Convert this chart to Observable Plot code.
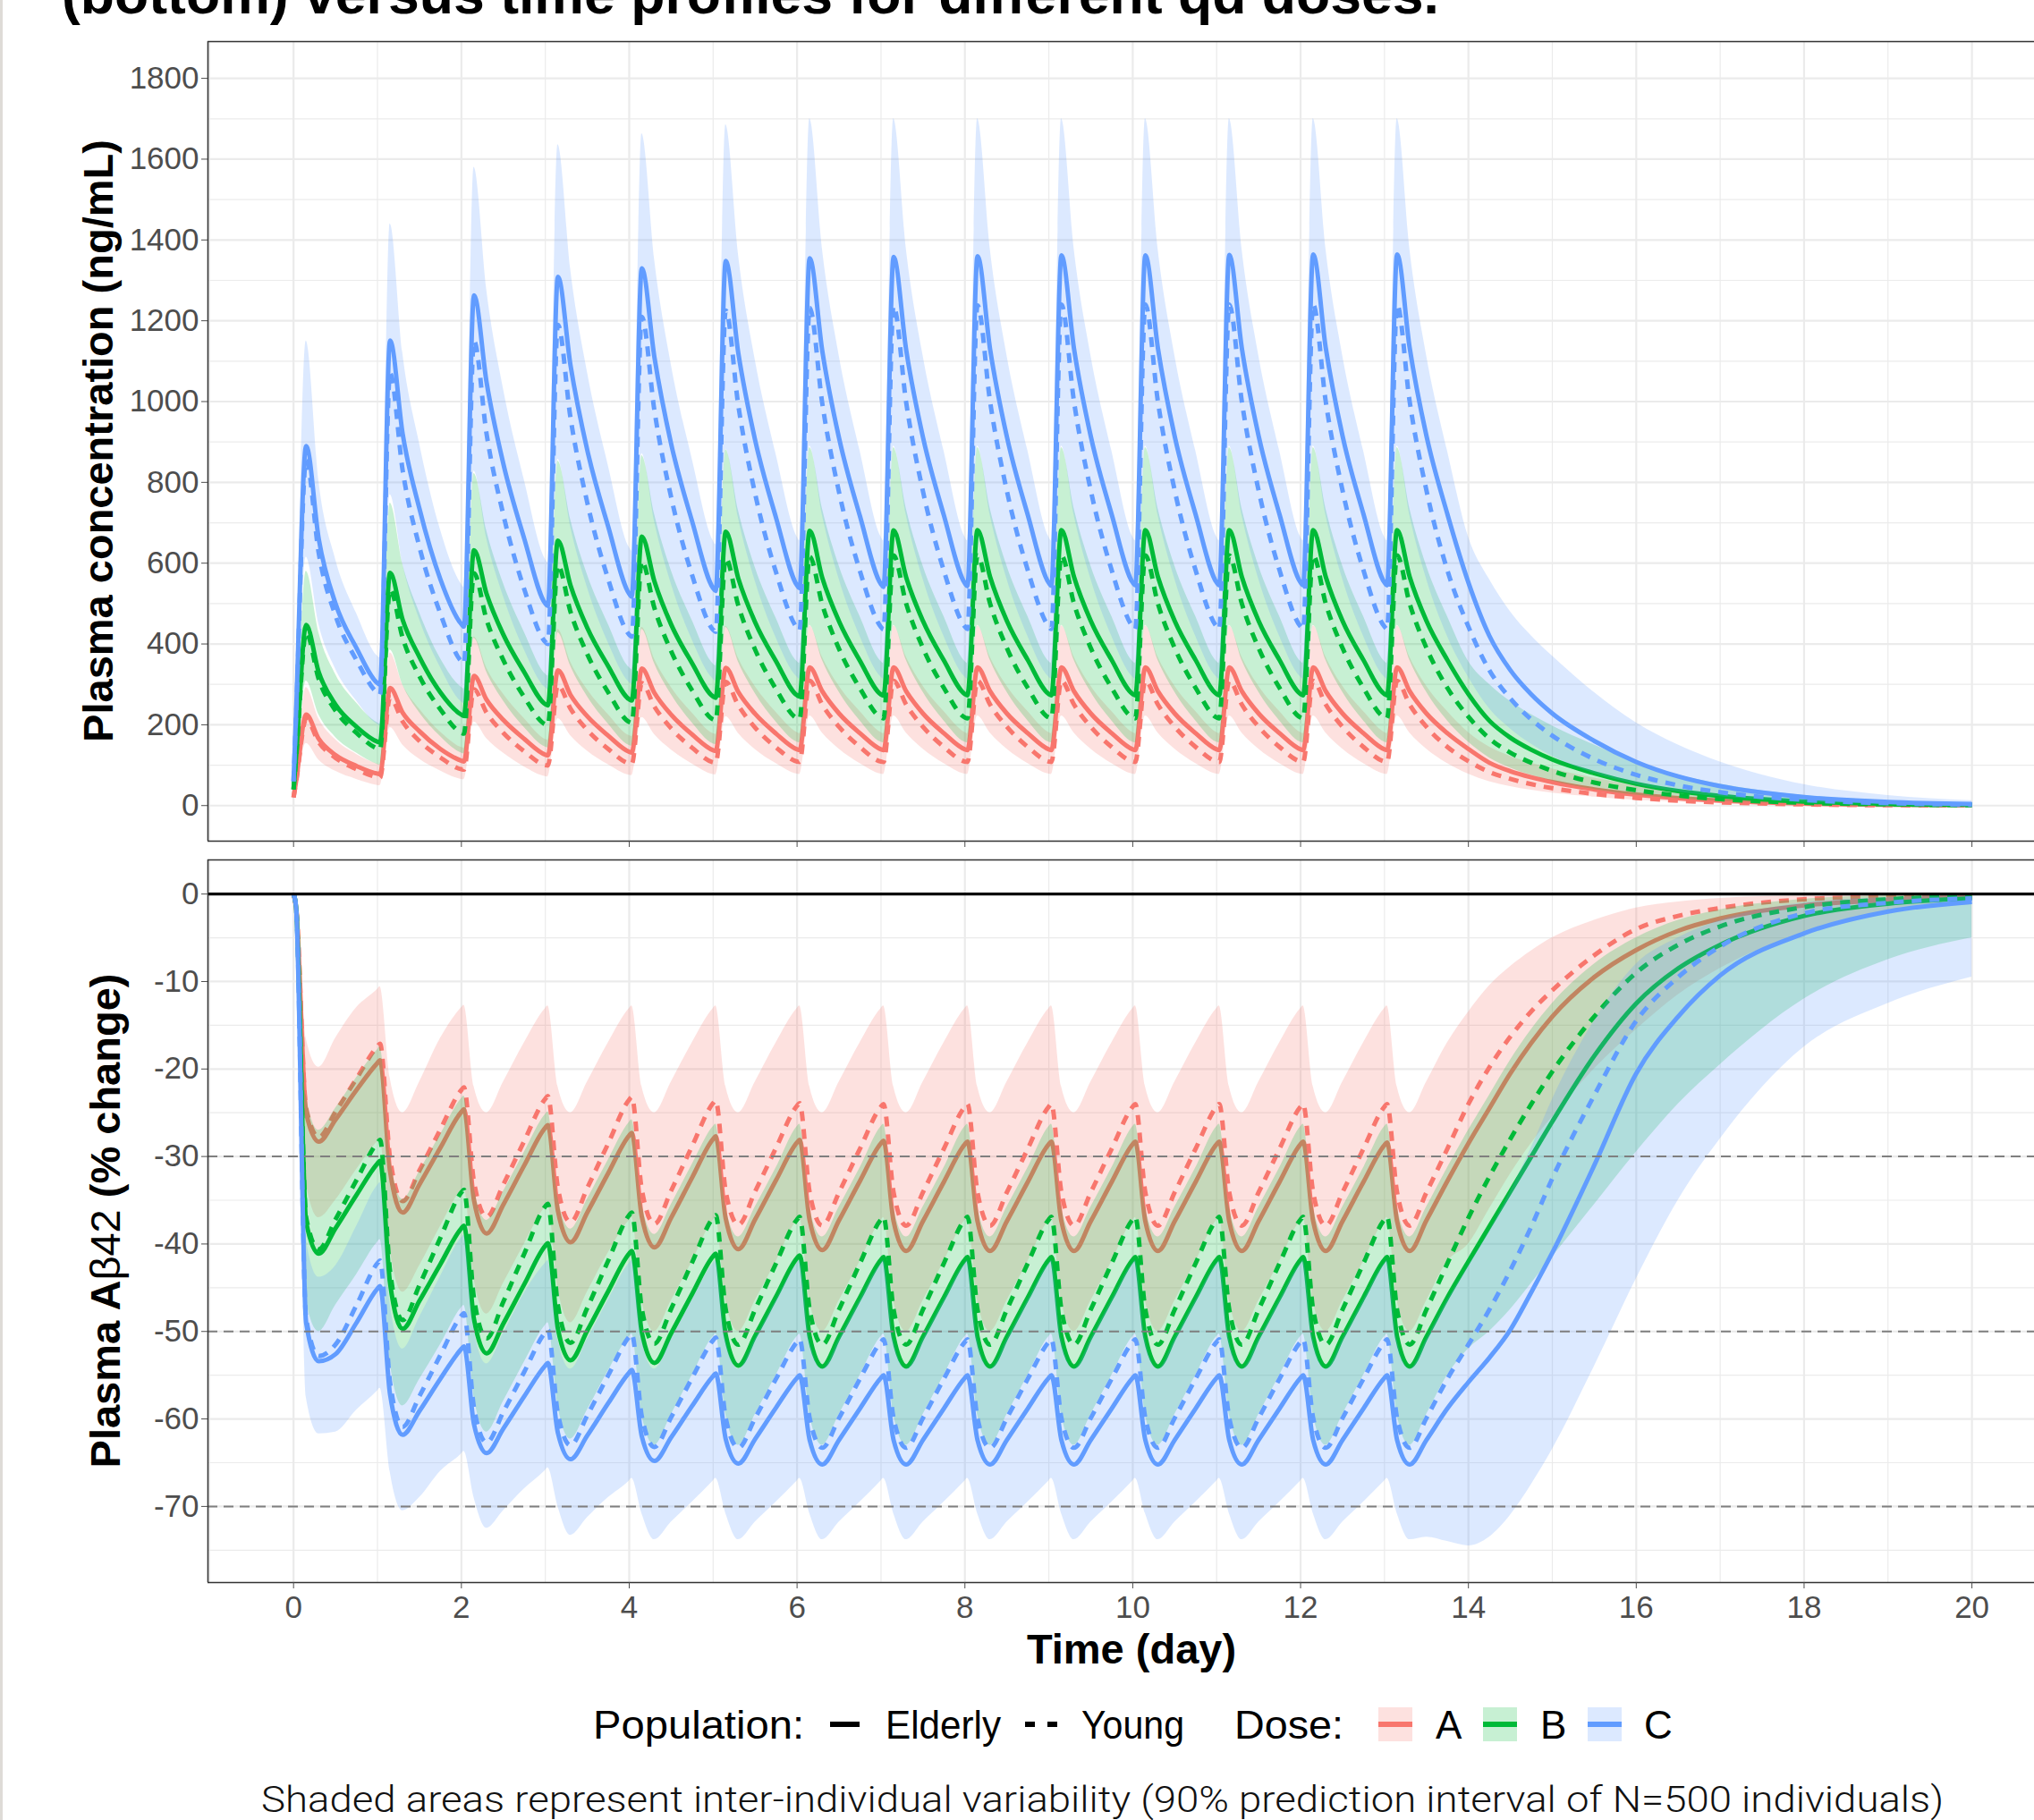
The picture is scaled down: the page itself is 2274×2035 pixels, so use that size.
<!DOCTYPE html>
<html><head><meta charset="utf-8">
<script src="https://cdn.jsdelivr.net/npm/d3@7"></script>
<script src="https://cdn.jsdelivr.net/npm/@observablehq/plot@0.6"></script>
<style>
html,body{margin:0;padding:0;background:#fff;overflow:hidden;width:2274px;height:2035px;}
#wrap{position:relative;width:2274px;height:2035px;}
#wrap > svg{position:absolute;left:0;top:0;}
</style></head><body><div id="wrap"></div>
<script>
// ---------- time grid (day) ----------
const T = [
0,0.03,0.15,0.3,0.5,0.75, 1,1.03,1.15,1.3,1.5,1.75, 2,2.03,2.15,2.3,2.5,2.75, 3,3.03,3.15,3.3,3.5,3.75,
4,4.03,4.15,4.3,4.5,4.75, 5,5.03,5.15,5.3,5.5,5.75, 6,6.03,6.15,6.3,6.5,6.75, 7,7.03,7.15,7.3,7.5,7.75,
8,8.03,8.15,8.3,8.5,8.75, 9,9.03,9.15,9.3,9.5,9.75, 10,10.03,10.15,10.3,10.5,10.75, 11,11.03,11.15,11.3,11.5,11.75,
12,12.03,12.15,12.3,12.5,12.75, 13,13.03,13.15,13.3,13.5,13.75,
14,14.25,14.5,14.75,15,15.5,16,16.5,17,18,19,20];

// ---------- plasma concentration (ng/mL) ----------
const pkAE = [20,60,225,165,125,98, 79,78,291,230,184,140, 111,109,321,262,212,165, 126,124,335,274,221,173,
133,131,339,279,225,176, 137,135,341,281,227,178, 139,137,342,283,228,179, 139,137,342,283,228,179,
139,137,342,283,228,179, 139,137,342,283,228,179, 139,137,342,283,228,179, 139,137,342,283,228,179,
139,137,342,283,228,179, 139,137,342,283,228,179,
140,106,85,70,58,40,27,18,12,5,2,1];
const pkAY = [20,58,214,157,118,90, 70,69,268,208,160,119, 90,89,288,230,180,134, 100,99,298,240,187,140,
104,103,303,245,191,143, 107,106,306,248,193,144, 109,108,309,250,195,145, 109,108,309,250,195,145,
109,108,309,250,195,145, 109,108,309,250,195,145, 109,108,309,250,195,145, 109,108,309,250,195,145,
109,108,309,250,195,145, 109,108,309,250,195,145,
110,83,66,53,43,29,19,12,8,3,1,0.5];
const pkBE = [40,120,447,330,250,195, 158,156,576,460,368,280, 225,222,632,524,423,330, 251,248,656,545,440,345,
263,260,666,555,448,352, 270,267,678,562,454,357, 273,270,680,564,456,358, 275,272,681,565,457,359,
276,273,682,566,457,360, 276,273,682,566,457,360, 276,273,682,566,457,360, 276,273,682,566,457,360,
276,273,682,566,457,360, 276,273,682,566,457,360,
276,210,168,138,114,80,54,36,24,10,4,2];
const pkBY = [40,115,428,313,235,180, 141,139,535,415,320,238, 180,178,575,460,360,268, 201,199,595,480,375,280,
207,205,605,489,382,285, 213,211,612,495,386,288, 216,214,616,498,388,290, 218,216,619,500,390,291,
218,216,619,500,390,291, 218,216,619,500,390,291, 218,216,619,500,390,291, 218,216,619,500,390,291,
218,216,619,500,390,291, 218,216,619,500,390,291,
220,166,131,106,86,57,38,25,16,7,3,1];
const pkCE = [60,230,890,660,500,390, 303,299,1151,920,735,560, 449,443,1263,1048,846,660, 500,494,1309,1090,880,690,
524,517,1330,1110,895,703, 538,531,1348,1120,905,712, 545,538,1355,1126,910,716, 548,541,1358,1128,912,718,
550,543,1360,1130,913,719, 551,544,1362,1131,914,720, 552,545,1362,1132,914,720, 552,545,1363,1132,915,720,
552,545,1364,1133,915,721, 552,545,1364,1133,915,721,
552,420,335,275,228,160,108,72,48,21,9,4];
const pkCY = [60,220,855,625,470,360, 279,275,1070,830,640,475, 357,352,1150,920,720,535, 405,400,1190,960,750,560,
423,418,1210,978,763,570, 435,430,1225,990,772,577, 440,434,1232,996,776,580, 442,436,1236,998,778,581,
443,437,1238,1000,779,582, 443,437,1240,1000,780,582, 443,437,1240,1000,780,582, 443,437,1240,1000,780,582,
443,437,1240,1000,780,582, 443,437,1240,1000,780,582,
443,335,265,213,173,115,76,50,33,14,6,2];
// 90% prediction interval bands (concentration)
const pkAlo = [14,40,154,113,85,65, 50,49,193,150,115,86, 65,64,207,166,130,96, 72,71,215,173,135,101,
75,74,218,176,138,103, 77,76,220,179,139,104, 78,77,222,180,140,104, 78,77,222,180,140,104,
78,77,222,180,140,104, 78,77,222,180,140,104, 78,77,222,180,140,104, 78,77,222,180,140,104,
78,77,222,180,140,104, 78,77,222,180,140,104,
78,59,47,38,31,21,13,9,6,2,1,0.3];
const pkAhi = [26,75,292,215,163,127, 103,101,378,299,239,182, 144,142,417,341,276,215, 164,162,436,356,287,225,
173,171,441,363,293,229, 178,176,443,365,295,231, 181,178,445,368,296,233, 181,178,445,368,296,233,
181,178,445,368,296,233, 181,178,445,368,296,233, 181,178,445,368,296,233, 181,178,445,368,296,233,
181,178,445,368,296,233, 181,178,445,368,296,233,
181,145,122,105,91,68,50,36,26,12,6,3];
const pkBlo = [29,80,308,225,169,130, 102,100,385,299,230,171, 130,128,414,331,259,193, 145,143,428,346,270,202,
149,147,436,352,275,205, 153,151,441,356,278,207, 157,155,446,360,281,210, 157,155,446,360,281,210,
157,155,446,360,281,210, 157,155,446,360,281,210, 157,155,446,360,281,210, 157,155,446,360,281,210,
157,155,446,360,281,210, 157,155,446,360,281,210,
157,118,93,75,61,40,26,17,11,4,1,0.5];
const pkBhi = [52,150,580,429,325,254, 205,202,749,598,478,364, 293,289,822,681,550,429, 326,321,853,709,572,449,
342,337,866,722,582,458, 351,346,881,731,590,464, 357,352,886,736,594,468, 357,352,886,736,594,468,
357,352,886,736,594,468, 357,352,886,736,594,468, 357,352,886,736,594,468, 357,352,886,736,594,468,
357,352,886,736,594,468, 357,352,886,736,594,468,
357,300,258,225,197,150,108,76,53,25,12,6];
const pkClo = [43,160,615,450,338,259, 201,198,770,598,461,342, 257,253,828,662,518,385, 292,288,857,691,540,403,
305,300,871,704,549,410, 313,308,882,713,556,415, 318,313,890,720,561,419, 318,313,890,720,561,419,
318,313,890,720,561,419, 318,313,890,720,561,419, 318,313,890,720,561,419, 318,313,890,720,561,419,
318,313,890,720,561,419, 318,313,890,720,561,419,
318,240,190,152,122,80,52,34,22,9,4,1];
const pkChi = [73,290,1150,805,610,476, 370,365,1440,1122,897,683, 548,540,1580,1279,1032,805, 610,601,1636,1330,1074,842,
639,630,1663,1354,1092,858, 656,646,1685,1366,1104,869, 665,655,1700,1380,1115,878, 665,655,1700,1380,1115,878,
665,655,1700,1380,1115,878, 665,655,1700,1380,1115,878, 665,655,1700,1380,1115,878, 665,655,1700,1380,1115,878,
665,655,1700,1380,1115,878, 665,655,1700,1380,1115,878,
665,560,480,420,370,280,205,150,108,52,25,12];

// ---------- plasma Abeta42 (% change) ----------
const pdAE = [0,-1.5,-25.0,-28.3,-25.8,-22.4, -19.3,-19.0,-31.7,-36.4,-33.2,-29.0, -24.9,-24.6,-35.0,-38.8,-35.5,-31.0,
-26.7,-26.4,-36.2,-39.8,-36.4,-31.9, -27.6,-27.3,-36.9,-40.4,-37.0,-32.4, -28.0,-27.7,-37.1,-40.6,-37.2,-32.7,
-28.4,-28.1,-37.3,-40.7,-37.3,-32.8, -28.5,-28.2,-37.4,-40.8,-37.4,-32.9, -28.6,-28.3,-37.4,-40.8,-37.4,-32.9,
-28.6,-28.3,-37.4,-40.8,-37.4,-32.9, -28.6,-28.3,-37.4,-40.8,-37.4,-32.9, -28.6,-28.3,-37.4,-40.8,-37.4,-32.9,
-28.6,-28.3,-37.4,-40.8,-37.4,-32.9, -28.7,-28.4,-37.4,-40.8,-37.3,-32.8,
-28.5,-24.5,-20.5,-17.0,-14.0,-9.5,-6.4,-4.2,-2.8,-1.3,-0.7,-0.4];
const pdAY = [0,-1.5,-24.5,-27.8,-24.9,-21.1, -17.4,-17.1,-30.2,-35.1,-31.6,-26.9, -22.4,-22.1,-32.9,-36.9,-33.2,-28.2,
-23.4,-23.1,-33.6,-37.5,-33.6,-28.5, -23.5,-23.2,-33.8,-37.7,-33.9,-28.8, -23.9,-23.6,-34.0,-37.8,-34.0,-29.0,
-24.2,-23.9,-34.1,-37.9,-34.1,-29.1, -24.3,-24.0,-34.1,-37.9,-34.1,-29.1, -24.3,-24.0,-34.1,-37.9,-34.1,-29.1,
-24.3,-24.0,-34.1,-37.9,-34.1,-29.1, -24.3,-24.0,-34.1,-37.9,-34.1,-29.1, -24.3,-24.0,-34.1,-37.9,-34.1,-29.1,
-24.3,-24.0,-34.1,-37.9,-34.1,-29.1, -24.3,-24.0,-34.1,-37.9,-34.1,-29.1,
-24.0,-19.8,-16.3,-13.4,-11.0,-7.0,-4.0,-2.5,-1.6,-0.6,-0.3,-0.2];
const pdBE = [0,-1.5,-37.5,-41.1,-38.2,-34.4, -30.8,-30.5,-44.5,-49.7,-46.5,-42.3, -38.2,-37.9,-48.6,-52.5,-49.1,-44.6,
-40.2,-39.9,-49.7,-53.3,-49.9,-45.4, -41.1,-40.8,-50.1,-53.6,-50.2,-45.7, -41.4,-41.1,-50.4,-53.9,-50.5,-46.0,
-41.6,-41.3,-50.6,-54.0,-50.6,-46.1, -41.8,-41.5,-50.6,-54.0,-50.6,-46.1, -41.8,-41.5,-50.6,-54.0,-50.6,-46.1,
-41.8,-41.5,-50.6,-54.0,-50.6,-46.1, -41.8,-41.5,-50.6,-54.0,-50.6,-46.1, -41.8,-41.5,-50.6,-54.0,-50.6,-46.1,
-41.8,-41.5,-50.6,-54.0,-50.6,-46.1, -41.8,-41.5,-50.6,-54.0,-50.6,-46.1,
-42.0,-38.0,-34.0,-30.0,-26.0,-18.5,-12.5,-8.5,-5.8,-2.5,-1.1,-0.5];
const pdBY = [0,-1.5,-37.0,-40.6,-37.2,-32.7, -28.4,-28.1,-43.1,-48.7,-44.7,-39.3, -34.1,-33.8,-46.2,-50.8,-46.6,-41.1,
-35.7,-35.4,-47.0,-51.3,-47.3,-41.9, -36.7,-36.4,-47.4,-51.4,-47.4,-42.1, -37.0,-36.7,-47.5,-51.5,-47.5,-42.2,
-37.2,-36.9,-47.5,-51.5,-47.5,-42.2, -37.2,-36.9,-47.5,-51.5,-47.5,-42.2, -37.2,-36.9,-47.5,-51.5,-47.5,-42.2,
-37.2,-36.9,-47.5,-51.5,-47.5,-42.2, -37.2,-36.9,-47.5,-51.5,-47.5,-42.2, -37.2,-36.9,-47.5,-51.5,-47.5,-42.2,
-37.2,-36.9,-47.5,-51.5,-47.5,-42.2, -37.2,-36.9,-47.5,-51.5,-47.5,-42.2,
-37.0,-32.3,-28.0,-24.0,-20.3,-14.0,-9.0,-5.8,-3.7,-1.5,-0.6,-0.3];
const pdCE = [0,-1.5,-49.0,-53.4,-52.6,-49.0, -45.1,-44.8,-57.2,-61.8,-59.1,-55.4, -52.0,-51.7,-60.6,-63.9,-61.1,-57.4,
-53.9,-53.6,-61.6,-64.6,-61.9,-58.2, -54.7,-54.4,-62.0,-64.8,-62.1,-58.5, -55.1,-54.8,-62.3,-65.1,-62.3,-58.7,
-55.3,-55.0,-62.4,-65.2,-62.4,-58.8, -55.3,-55.0,-62.4,-65.2,-62.4,-58.8, -55.3,-55.0,-62.4,-65.2,-62.4,-58.8,
-55.3,-55.0,-62.4,-65.2,-62.4,-58.8, -55.3,-55.0,-62.4,-65.2,-62.4,-58.8, -55.3,-55.0,-62.4,-65.2,-62.4,-58.8,
-55.3,-55.0,-62.4,-65.2,-62.4,-58.8, -55.3,-55.0,-62.4,-65.2,-62.4,-58.8,
-55.8,-53.0,-49.8,-45.5,-41.0,-31.0,-20.5,-14.0,-9.3,-4.5,-2.0,-0.9];
const pdCY = [0,-1.5,-48.5,-52.8,-51.5,-47.0, -42.2,-41.9,-55.8,-60.9,-57.4,-52.7, -48.2,-47.9,-58.7,-62.7,-59.2,-54.6,
-50.1,-49.8,-59.4,-63.0,-59.6,-55.0, -50.6,-50.3,-59.7,-63.2,-59.8,-55.3, -51.0,-50.7,-59.9,-63.3,-59.9,-55.4,
-51.2,-50.9,-59.9,-63.3,-59.9,-55.4, -51.2,-50.9,-59.9,-63.3,-59.9,-55.4, -51.2,-50.9,-59.9,-63.3,-59.9,-55.4,
-51.2,-50.9,-59.9,-63.3,-59.9,-55.4, -51.2,-50.9,-59.9,-63.3,-59.9,-55.4, -51.2,-50.9,-59.9,-63.3,-59.9,-55.4,
-51.2,-50.9,-59.9,-63.3,-59.9,-55.4, -51.2,-50.9,-59.9,-63.3,-59.9,-55.4,
-51.5,-47.5,-43.0,-38.0,-32.5,-23.0,-14.5,-9.5,-6.0,-2.2,-1.0,-0.5];
// 90% prediction interval bands (% change)
const pdAlo = [0,-3,-33.0,-37.0,-35.0,-31.5, -28.3,-28.0,-40.5,-45.5,-42.5,-38.0, -33.8,-33.5,-44.0,-48.0,-44.5,-40.0,
-35.8,-35.5,-45.0,-49.0,-45.5,-41.0, -37.3,-37.0,-46.5,-50.0,-46.5,-42.0, -37.3,-37.0,-46.5,-50.0,-46.5,-42.0,
-37.3,-37.0,-46.5,-50.0,-46.5,-42.0, -37.3,-37.0,-46.5,-50.0,-46.5,-42.0, -37.3,-37.0,-46.5,-50.0,-46.5,-42.0,
-37.3,-37.0,-46.5,-50.0,-46.5,-42.0, -37.3,-37.0,-46.5,-50.0,-46.5,-42.0, -37.3,-37.0,-46.5,-50.0,-46.5,-42.0,
-37.3,-37.0,-46.5,-50.0,-46.5,-42.0, -37.3,-37.0,-46.5,-50.0,-46.5,-42.0,
-40.0,-36.0,-32.0,-28.5,-25.5,-20.0,-15.5,-11.5,-8.5,-4.5,-2.2,-1.2];
const pdAhi = [0,-0.5,-16.5,-19.8,-16.5,-13.0, -10.9,-10.6,-21.0,-25.0,-21.5,-16.5, -13.0,-12.7,-22.0,-25.0,-21.5,-17.0,
-13.1,-12.8,-22.0,-25.0,-21.5,-17.0, -13.1,-12.8,-22.0,-25.0,-21.5,-17.0, -13.1,-12.8,-22.0,-25.0,-21.5,-17.0,
-13.1,-12.8,-22.0,-25.0,-21.5,-17.0, -13.1,-12.8,-22.0,-25.0,-21.5,-17.0, -13.1,-12.8,-22.0,-25.0,-21.5,-17.0,
-13.1,-12.8,-22.0,-25.0,-21.5,-17.0, -13.1,-12.8,-22.0,-25.0,-21.5,-17.0, -13.1,-12.8,-22.0,-25.0,-21.5,-17.0,
-13.1,-12.8,-22.0,-25.0,-21.5,-17.0, -13.1,-12.8,-22.0,-25.0,-21.5,-17.0,
-13.5,-10.5,-8.3,-6.5,-5.0,-3.0,-1.6,-0.9,-0.5,-0.2,-0.1,0];
const pdBlo = [0,-3,-46.5,-50.0,-47.0,-43.5, -39.8,-39.5,-53.5,-58.5,-55.5,-51.5, -47.3,-47.0,-57.5,-61.5,-58.0,-53.5,
-49.3,-49.0,-58.5,-62.3,-59.0,-54.5, -50.6,-50.3,-59.5,-63.0,-59.5,-55.0, -50.6,-50.3,-59.5,-63.0,-59.5,-55.0,
-50.6,-50.3,-59.5,-63.0,-59.5,-55.0, -50.6,-50.3,-59.5,-63.0,-59.5,-55.0, -50.6,-50.3,-59.5,-63.0,-59.5,-55.0,
-50.6,-50.3,-59.5,-63.0,-59.5,-55.0, -50.6,-50.3,-59.5,-63.0,-59.5,-55.0, -50.6,-50.3,-59.5,-63.0,-59.5,-55.0,
-50.6,-50.3,-59.5,-63.0,-59.5,-55.0, -50.6,-50.3,-59.5,-63.0,-59.5,-55.0,
-52.0,-50.0,-47.5,-44.5,-41.5,-35.5,-29.5,-24.0,-19.5,-12.0,-7.5,-5.0];
const pdBhi = [0,-1.0,-23.0,-27.0,-24.5,-21.0, -17.8,-17.5,-30.0,-34.9,-31.7,-27.5, -23.4,-23.1,-33.5,-37.3,-34.0,-29.5,
-25.2,-24.9,-34.7,-38.3,-34.9,-30.4, -26.1,-25.8,-35.4,-38.9,-35.5,-30.9, -26.6,-26.3,-35.8,-39.2,-35.8,-31.3,
-26.6,-26.3,-35.8,-39.2,-35.8,-31.3, -26.6,-26.3,-35.8,-39.2,-35.8,-31.3, -26.6,-26.3,-35.8,-39.2,-35.8,-31.3,
-26.6,-26.3,-35.8,-39.2,-35.8,-31.3, -26.6,-26.3,-35.8,-39.2,-35.8,-31.3, -26.6,-26.3,-35.8,-39.2,-35.8,-31.3,
-26.6,-26.3,-35.8,-39.2,-35.8,-31.3, -26.6,-26.3,-35.8,-39.2,-35.8,-31.3,
-27.0,-23.0,-19.0,-15.5,-12.5,-8.0,-5.0,-3.0,-1.8,-0.6,-0.2,-0.1];
const pdClo = [0,-3,-57.5,-61.7,-61.5,-59.0, -56.8,-56.5,-66.0,-70.5,-69.0,-66.0, -64.0,-63.7,-69.0,-72.5,-70.5,-68.0,
-65.9,-65.6,-70.0,-73.3,-71.3,-69.0, -67.1,-66.8,-70.8,-73.8,-71.8,-69.5, -67.1,-66.8,-70.8,-73.8,-71.8,-69.5,
-67.1,-66.8,-70.8,-73.8,-71.8,-69.5, -67.1,-66.8,-70.8,-73.8,-71.8,-69.5, -67.1,-66.8,-70.8,-73.8,-71.8,-69.5,
-67.1,-66.8,-70.8,-73.8,-71.8,-69.5, -67.1,-66.8,-70.8,-73.8,-71.8,-69.5, -67.1,-66.8,-70.8,-73.8,-71.8,-69.5,
-67.1,-66.8,-70.8,-73.8,-71.8,-69.5, -67.1,-66.8,-70.8,-73.8,-73.5,-74.0,
-74.5,-73.5,-71.0,-67.5,-63.5,-54.0,-44.0,-35.0,-28.0,-17.5,-12.5,-9.5];
const pdChi = [0,-1.0,-39.5,-43.8,-42.5,-38.0, -33.3,-33.0,-46.8,-52.0,-48.4,-43.7, -39.3,-39.0,-49.7,-53.7,-50.2,-45.6,
-42.2,-41.9,-50.9,-54.3,-50.9,-46.4, -42.2,-41.9,-50.9,-54.3,-50.9,-46.4, -42.2,-41.9,-50.9,-54.3,-50.9,-46.4,
-42.2,-41.9,-50.9,-54.3,-50.9,-46.4, -42.2,-41.9,-50.9,-54.3,-50.9,-46.4, -42.2,-41.9,-50.9,-54.3,-50.9,-46.4,
-42.2,-41.9,-50.9,-54.3,-50.9,-46.4, -42.2,-41.9,-50.9,-54.3,-50.9,-46.4, -42.2,-41.9,-50.9,-54.3,-50.9,-46.4,
-42.2,-41.9,-50.9,-54.3,-50.9,-46.4, -42.2,-41.9,-50.9,-54.3,-50.9,-46.4,
-42.5,-38.5,-34.0,-29.0,-23.5,-14.5,-8.0,-5.0,-3.0,-1.0,-0.4,-0.2];

// ---------- categories, colours, ticks ----------
const doses = ["A", "B", "C"];
const doseColors = ["#F8766D", "#00BA38", "#619CFF"];
const populations = ["Elderly", "Young"];
const xTicks = [0,2,4,6,8,10,12,14,16,18,20];
const xMinor = [-1,1,3,5,7,9,11,13,15,17,19];
const pkTicks = [0,200,400,600,800,1000,1200,1400,1600,1800];
const pkMinor = [100,300,500,700,900,1100,1300,1500,1700];
const pdTicks = [0,-10,-20,-30,-40,-50,-60,-70];
const pdMinor = [-5,-15,-25,-35,-45,-55,-65,-75];
const pdRefLines = [-30,-50,-70];

const all = {pkAE,pkAY,pkBE,pkBY,pkCE,pkCY,pkAlo,pkAhi,pkBlo,pkBhi,pkClo,pkChi,
  pdAE,pdAY,pdBE,pdBY,pdCE,pdCY,pdAlo,pdAhi,pdBlo,pdBhi,pdClo,pdChi};
for (const [k, a] of Object.entries(all)) if (a.length !== T.length) console.error(k, a.length, T.length);

const rows = a => T.map((t, i) => ({t, v: a[i]}));
const band = (lo, hi) => T.map((t, i) => ({t, lo: lo[i], hi: hi[i]}));

function seriesMarks(E, Y, LO, HI) {
  const m = [];
  doses.forEach((d, i) => {
    const c = doseColors[i];
    m.push(Plot.areaY(band(LO[i], HI[i]), {x: "t", y1: "lo", y2: "hi", fill: c, fillOpacity: 0.22, curve: "monotone-x"}));
    m.push(Plot.lineY(rows(Y[i]), {x: "t", y: "v", stroke: c, strokeWidth: 5, strokeDasharray: "11,9", strokeLinecap: "butt", curve: "monotone-x"}));
    m.push(Plot.lineY(rows(E[i]), {x: "t", y: "v", stroke: c, strokeWidth: 5, strokeLinecap: "butt", curve: "monotone-x"}));
  });
  return m;
}

const W = 2274, H = 2035;
const X0 = -1.02, X1 = X0 + (W - 232) / 93.82;
const style = {background: "transparent", overflow: "visible", fontFamily: "'Liberation Sans', Arial, sans-serif", color: "#4D4D4D"};
const grid = "#EBEBEB";
const fmt = d => String(d);

const pk = Plot.plot({
  width: W, height: H, marginLeft: 232, marginRight: 0, marginTop: 46, marginBottom: H - 940,
  x: {domain: [X0, X1]}, y: {domain: [-88, 1891]}, style,
  marks: [
    Plot.ruleX(xMinor, {stroke: grid, strokeWidth: 1.2}),
    Plot.ruleY(pkMinor, {stroke: grid, strokeWidth: 1.2}),
    Plot.ruleX(xTicks, {stroke: grid, strokeWidth: 2.2}),
    Plot.ruleY(pkTicks, {stroke: grid, strokeWidth: 2.2}),
    ...seriesMarks([pkAE, pkBE, pkCE], [pkAY, pkBY, pkCY], [pkAlo, pkBlo, pkClo], [pkAhi, pkBhi, pkChi]),
    Plot.ruleX([X0], {stroke: "#333", strokeWidth: 1.6}),
    Plot.ruleY([-88, 1891], {stroke: "#333", strokeWidth: 1.6}),
    Plot.axisY(pkTicks, {tickSize: 7, tickPadding: 3, fontSize: 35, tickFormat: fmt, label: null}),
    Plot.axisX(xTicks, {tickSize: 7, tickFormat: () => "", label: null})
  ]
});

const pd = Plot.plot({
  width: W, height: H, marginLeft: 232, marginRight: 0, marginTop: 961, marginBottom: H - 1769,
  x: {domain: [X0, X1]}, y: {domain: [-78.7, 3.9]}, style,
  marks: [
    Plot.ruleX(xMinor, {stroke: grid, strokeWidth: 1.2}),
    Plot.ruleY(pdMinor, {stroke: grid, strokeWidth: 1.2}),
    Plot.ruleX(xTicks, {stroke: grid, strokeWidth: 2.2}),
    Plot.ruleY(pdTicks, {stroke: grid, strokeWidth: 2.2}),
    ...seriesMarks([pdAE, pdBE, pdCE], [pdAY, pdBY, pdCY], [pdAlo, pdBlo, pdClo], [pdAhi, pdBhi, pdChi]),
    Plot.ruleY(pdRefLines, {stroke: "#7F7F7F", strokeWidth: 2, strokeDasharray: "11,7"}),
    Plot.ruleY([0], {stroke: "#000", strokeWidth: 3.2}),
    Plot.ruleX([X0], {stroke: "#333", strokeWidth: 1.6}),
    Plot.ruleY([-78.7, 3.9], {stroke: "#333", strokeWidth: 1.6}),
    Plot.axisY(pdTicks, {tickSize: 7, tickPadding: 3, fontSize: 35, tickFormat: fmt, label: null}),
    Plot.axisX(xTicks, {tickSize: 7, tickPadding: 8, fontSize: 35, tickFormat: fmt, label: null})
  ]
});

const wrap = document.getElementById("wrap");
wrap.appendChild(pk);
wrap.appendChild(pd);

// ---------- titles, legend, caption ----------
const ns = "http://www.w3.org/2000/svg";
const ov = document.createElementNS(ns, "svg");
ov.setAttribute("width", W); ov.setAttribute("height", H);
ov.setAttribute("style", "position:absolute;left:0;top:0;font-family:'Liberation Sans',Arial,sans-serif;");
ov.innerHTML = `
<rect x="0" y="0" width="3" height="${H}" fill="#DEDBD7"/>
<text x="69" y="15" font-size="62" font-weight="bold" fill="#000" textLength="1540" lengthAdjust="spacingAndGlyphs">(bottom) versus time profiles for different qd doses.</text>
<text transform="translate(126,493) rotate(-90)" text-anchor="middle" font-size="47" font-weight="bold" fill="#000">Plasma concentration (ng/mL)</text>
<text transform="translate(134,1365) rotate(-90)" text-anchor="middle" font-size="47" fill="#000"><tspan font-weight="bold">Plasma A</tspan><tspan>β42</tspan><tspan font-weight="bold"> (% change)</tspan></text>
<text x="1265" y="1860" text-anchor="middle" font-size="47" font-weight="bold" fill="#000">Time (day)</text>
<text x="663" y="1944" font-size="44" fill="#000" textLength="236" lengthAdjust="spacingAndGlyphs">Population:</text>
<line x1="928" x2="961" y1="1928" y2="1928" stroke="#000" stroke-width="6"/>
<text x="990" y="1944" font-size="44" fill="#000" textLength="129" lengthAdjust="spacingAndGlyphs">${populations[0]}</text>
<line x1="1146" x2="1182" y1="1928" y2="1928" stroke="#000" stroke-width="6" stroke-dasharray="11,14"/>
<text x="1209" y="1944" font-size="44" fill="#000" textLength="115" lengthAdjust="spacingAndGlyphs">${populations[1]}</text>
<text x="1380" y="1944" font-size="44" fill="#000" textLength="122" lengthAdjust="spacingAndGlyphs">Dose:</text>
${[1541, 1658, 1775].map((x, i) => `
<rect x="${x}" y="1909" width="38" height="38" fill="${doseColors[i]}" fill-opacity="0.22"/>
<line x1="${x}" x2="${x + 38}" y1="1928" y2="1928" stroke="${doseColors[i]}" stroke-width="6"/>
<text x="${[1605, 1722, 1838][i]}" y="1944" font-size="44" fill="#000">${doses[i]}</text>`).join("")}
<text x="292" y="2026" font-size="40" font-family="Roboto, 'Open Sans', sans-serif" font-weight="300" fill="#111" textLength="1881" lengthAdjust="spacingAndGlyphs">Shaded areas represent inter-individual variability (90% prediction interval of N=500 individuals)</text>
`;
wrap.appendChild(ov);
</script></body></html>
